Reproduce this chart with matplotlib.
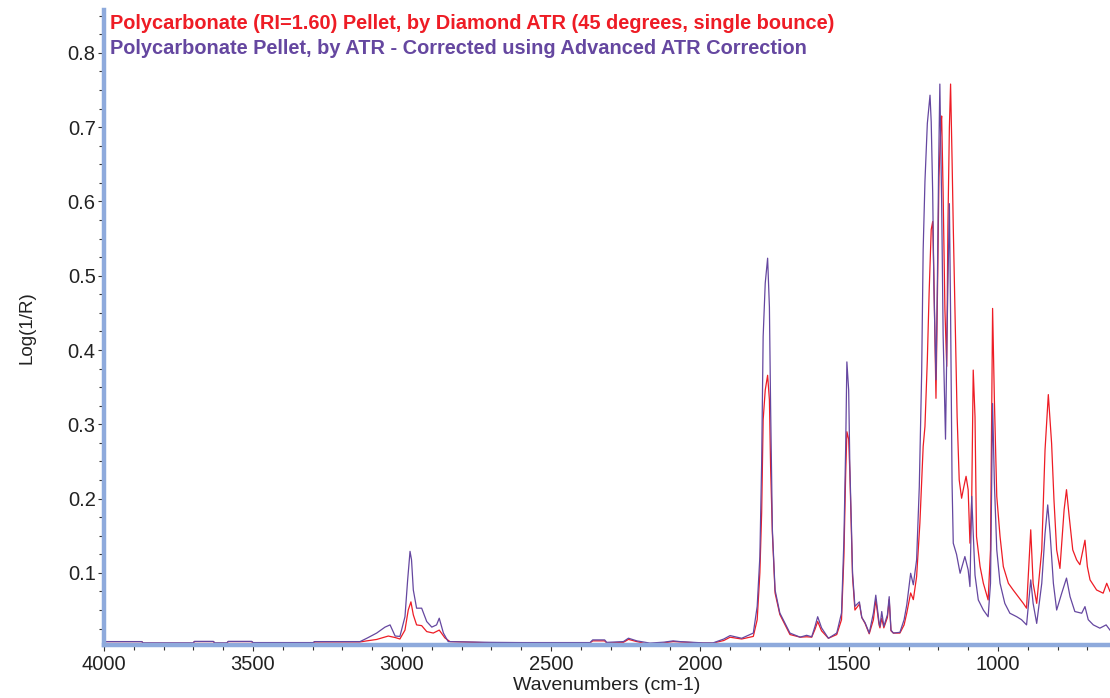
import matplotlib
matplotlib.use("Agg")
import matplotlib.pyplot as plt
from matplotlib.ticker import MultipleLocator

plt.rcParams['font.family'] = ['Liberation Sans', 'DejaVu Sans']

# --------------------------
# Spectrum data
# --------------------------
# Polycarbonate pellet, diamond ATR (red)
wn_atr = [4000, 3873, 3869, 3700, 3697, 3633, 3628, 3588, 3583, 3504, 3500, 3298, 3294,
          3141, 3118, 3085, 3046, 3023, 3007, 2990, 2979, 2970, 2962, 2951, 2934, 2917,
          2895, 2875, 2856, 2839, 2700, 2660, 2600, 2369, 2360, 2320, 2313, 2257, 2240,
          2212, 2168, 2120, 2090, 2067, 1990, 1956, 1920, 1899, 1860, 1821, 1808, 1799,
          1793, 1788, 1781, 1773, 1767, 1763, 1757, 1748, 1732, 1698, 1664, 1642, 1625,
          1614, 1605, 1592, 1569, 1541, 1525, 1517, 1511, 1507, 1501, 1497, 1492, 1488,
          1480, 1465, 1457, 1446, 1432, 1418, 1410, 1399, 1396, 1390, 1383, 1371, 1365,
          1359, 1351, 1329, 1315, 1306, 1293, 1284, 1273, 1262, 1251, 1245, 1237, 1231,
          1224, 1219, 1215, 1210, 1208, 1203, 1198, 1192, 1189, 1184, 1178, 1172, 1168,
          1163, 1159, 1154, 1150, 1143, 1137, 1130, 1122, 1115, 1107, 1100, 1094, 1088,
          1083, 1077, 1072, 1060, 1049, 1033, 1025, 1018, 1012, 1004, 993, 982, 965, 949,
          932, 915, 904, 890, 882, 870, 853, 842, 831, 820, 812, 803, 792, 778, 770, 761,
          749, 736, 725, 708, 700, 691, 669, 647, 635, 624]
abs_atr = [0.0075, 0.0075, 0.0053, 0.0053, 0.0075, 0.0075, 0.0053, 0.0053, 0.0075, 0.0075,
           0.0048, 0.0048, 0.0070, 0.0070, 0.0085, 0.0104, 0.015, 0.013, 0.011, 0.023,
           0.050, 0.061, 0.0435, 0.030, 0.029, 0.021, 0.019, 0.023, 0.0125, 0.0075,
           0.0058, 0.0045, 0.0058, 0.0058, 0.0085, 0.0085, 0.0058, 0.0065, 0.0105, 0.0075,
           0.0036, 0.006, 0.0075, 0.007, 0.0055, 0.0055, 0.009, 0.0134, 0.011, 0.0145,
           0.037, 0.10, 0.181, 0.306, 0.346, 0.366, 0.333, 0.243, 0.153, 0.073, 0.044,
           0.017, 0.0135, 0.014, 0.0135, 0.024, 0.0345, 0.022, 0.012, 0.017, 0.037, 0.122,
           0.234, 0.29, 0.28, 0.235, 0.16, 0.095, 0.050, 0.058, 0.040, 0.032, 0.018, 0.037,
           0.064, 0.030, 0.026, 0.039, 0.026, 0.040, 0.064, 0.022, 0.019, 0.019, 0.030,
           0.046, 0.073, 0.064, 0.095, 0.167, 0.27, 0.297, 0.387, 0.477, 0.562, 0.573,
           0.499, 0.387, 0.335, 0.477, 0.633, 0.70, 0.715, 0.611, 0.454, 0.378, 0.566,
           0.70, 0.758, 0.656, 0.566, 0.431, 0.31, 0.225, 0.2005, 0.215, 0.23, 0.212,
           0.14, 0.20, 0.373, 0.31, 0.149, 0.1085, 0.086, 0.0636, 0.131, 0.456, 0.333,
           0.203, 0.149, 0.1085, 0.086, 0.077, 0.068, 0.059, 0.0525, 0.158, 0.086, 0.059,
           0.131, 0.2655, 0.34, 0.2745, 0.198, 0.131, 0.106, 0.185, 0.212, 0.176, 0.131,
           0.1175, 0.111, 0.144, 0.1085, 0.0906, 0.077, 0.0727, 0.086, 0.075]

# Same pellet after Advanced ATR Correction (purple)
wn_corr = [4000, 3873, 3869, 3700, 3697, 3633, 3628, 3588, 3583, 3504, 3500, 3298, 3294,
           3141, 3118, 3085, 3057, 3040, 3023, 3007, 2990, 2981, 2973, 2968, 2962, 2951,
           2934, 2917, 2900, 2884, 2875, 2861, 2845, 2700, 2600, 2369, 2360, 2320, 2313,
           2257, 2240, 2212, 2168, 2120, 2090, 2067, 1990, 1956, 1920, 1899, 1860, 1821,
           1808, 1799, 1793, 1788, 1781, 1773, 1767, 1763, 1757, 1748, 1732, 1698, 1664,
           1642, 1625, 1614, 1605, 1592, 1569, 1541, 1525, 1517, 1511, 1507, 1501, 1497,
           1492, 1488, 1480, 1465, 1457, 1446, 1432, 1418, 1410, 1399, 1396, 1390, 1383,
           1371, 1365, 1359, 1351, 1329, 1315, 1306, 1293, 1284, 1273, 1264, 1256, 1251,
           1245, 1237, 1228, 1224, 1219, 1215, 1210, 1208, 1203, 1199, 1195, 1189, 1184,
           1176, 1171, 1163, 1159, 1154, 1150, 1139, 1127, 1111, 1100, 1094, 1088, 1083,
           1077, 1066, 1049, 1033, 1025, 1018, 1012, 1004, 993, 977, 960, 937, 921, 904,
           890, 882, 870, 853, 842, 833, 825, 814, 803, 786, 770, 758, 742, 719, 708, 697,
           680, 658, 637, 624]
abs_corr = [0.0075, 0.0075, 0.0058, 0.0058, 0.0078, 0.0078, 0.0058, 0.0058, 0.0078, 0.0078,
            0.0062, 0.0062, 0.0075, 0.0075, 0.012, 0.019, 0.027, 0.030, 0.015, 0.0145,
            0.041, 0.0906, 0.129, 0.1175, 0.077, 0.0525, 0.0525, 0.0345, 0.027, 0.030,
            0.039, 0.019, 0.0075, 0.0065, 0.0062, 0.0062, 0.0098, 0.0098, 0.0065, 0.0075,
            0.0121, 0.0085, 0.0055, 0.0068, 0.0085, 0.0075, 0.0058, 0.0058, 0.011, 0.0156,
            0.012, 0.019, 0.055, 0.122, 0.248, 0.418, 0.49, 0.5236, 0.458, 0.324, 0.158,
            0.077, 0.046, 0.019, 0.0135, 0.016, 0.014, 0.028, 0.041, 0.026, 0.012, 0.019,
            0.046, 0.144, 0.27, 0.384, 0.346, 0.243, 0.167, 0.10, 0.055, 0.061, 0.040,
            0.033, 0.019, 0.046, 0.070, 0.033, 0.028, 0.048, 0.028, 0.0435, 0.068, 0.023,
            0.019, 0.020, 0.037, 0.057, 0.0995, 0.084, 0.1175, 0.216, 0.37, 0.535, 0.627,
            0.705, 0.743, 0.707, 0.611, 0.485, 0.40, 0.36, 0.50, 0.65, 0.758, 0.60, 0.42,
            0.28, 0.42, 0.597, 0.45, 0.22, 0.14, 0.125, 0.0995, 0.122, 0.104, 0.0816,
            0.203, 0.153, 0.097, 0.0636, 0.050, 0.041, 0.086, 0.328, 0.221, 0.131, 0.086,
            0.059, 0.0457, 0.041, 0.037, 0.030, 0.0906, 0.059, 0.032, 0.086, 0.153, 0.1915,
            0.153, 0.086, 0.050, 0.0727, 0.093, 0.068, 0.048, 0.0457, 0.0546, 0.037, 0.030,
            0.0256, 0.030, 0.023]

title_atr = 'Polycarbonate (RI=1.60) Pellet, by Diamond ATR (45 degrees, single bounce)'
title_corr = 'Polycarbonate Pellet, by ATR - Corrected using Advanced ATR Correction'

red = '#ee1c25'
purple = '#6547a0'
spine_blue = '#8eaadc'

# --------------------------
# Plot
# --------------------------
fig = plt.figure(figsize=(11.1, 6.98), dpi=100)
ax = fig.add_axes([0.0937, 0.076, 0.9063, 0.910])

ax.plot(wn_atr, abs_atr, color=red, lw=0.9)
ax.plot(wn_corr, abs_corr, color=purple, lw=0.9)

ax.set_xlim(4000, 624)
ax.set_ylim(0.003, 0.858)

ax.xaxis.set_major_locator(MultipleLocator(500))
ax.xaxis.set_minor_locator(MultipleLocator(100))
ax.yaxis.set_major_locator(MultipleLocator(0.1))
ax.yaxis.set_minor_locator(MultipleLocator(0.025))
ax.yaxis.set_major_formatter(plt.FuncFormatter(lambda v, p: f'{v:.1f}'))

for s in ['top', 'right']:
    ax.spines[s].set_visible(False)
for s in ['left', 'bottom']:
    ax.spines[s].set_color(spine_blue)
    ax.spines[s].set_linewidth(3.2)

ax.tick_params(which='major', direction='out', length=4.5, width=0.8, color='#333333',
               labelsize=14.5, labelcolor='#222222')
ax.tick_params(which='minor', direction='out', length=3.5, width=0.8, color='#333333')
ax.tick_params(axis='y', which='major', pad=1.5)
ax.tick_params(axis='x', which='major', pad=3.0)

ax.set_xlabel('Wavenumbers (cm-1)', fontsize=14, labelpad=2, color='#222222')
ax.set_ylabel('Log(1/R)', fontsize=13.5, labelpad=23, color='#222222')

fig.text(0.099, 0.966, title_atr, color=red, fontsize=14.4, fontweight='bold', va='center')
fig.text(0.099, 0.931, title_corr, color=purple, fontsize=14.4, fontweight='bold', va='center')

plt.savefig('out.png', dpi=100)
